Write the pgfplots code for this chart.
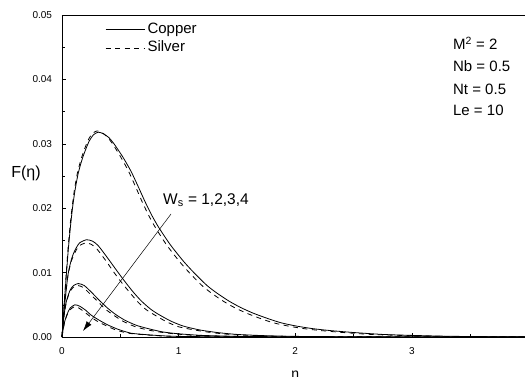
\documentclass[border=0pt]{standalone}
\usepackage{pgfplots}
\pgfplotsset{compat=1.18}
\usepackage{fontspec}
\setmainfont{Liberation Sans}
\usetikzlibrary{arrows.meta}
\newcommand{\fs}[1]{\fontsize{#1}{#1}\selectfont}
\pgfplotsset{
  curve/.style={line width=0.8pt, black, solid, no marks, smooth, tension=0.4,
    legend image code/.code={\draw[##1] (0pt,0pt) -- (39pt,0pt);}},
  dcurve/.style={curve, dash pattern=on 5pt off 4.5pt},
}
\begin{document}
\begin{tikzpicture}
\begin{axis}[
  at={(0,0)}, anchor=origin,
  scale only axis, width=466.4pt, height=322pt,
  xmin=0, xmax=4, ymin=0, ymax=0.05,
  clip=false,
  axis line style={line width=0.6pt},
  xtick={0,1,2,3}, minor xtick={0.5,1.5,2.5,3.5},
  ytick={0,0.01,0.02,0.03,0.04,0.05}, minor ytick={0.005,0.015,0.025,0.035,0.045},
  xtick pos=bottom, ytick pos=left, tick align=inside,
  major tick length=4pt, minor tick length=3pt,
  tick style={line width=0.5pt, black},
  scaled y ticks=false,
  /pgf/number format/assume math mode=true,
  ticklabel style={font=\fs{10}},
  xticklabel style={yshift=-7pt},
  yticklabel style={xshift=-6.5pt, /pgf/number format/.cd, fixed, zerofill, precision=2},
  legend style={draw=none, fill=none, inner sep=0pt, at={(axis cs:0.369,0.04887)}, anchor=north west, font=\fs{15}, row sep=4pt, column sep=2.5pt,
    nodes={inner sep=0pt, text height=11pt, text depth=3.4pt}},
  legend cell align=left,
]
% W=1 copper
\addplot[curve] coordinates {(0,0) (0.02,0.0054) (0.037,0.0096) (0.055,0.0138) (0.074,0.0174) (0.09,0.0200) (0.11,0.0226) (0.14,0.0255) (0.18,0.0280) (0.23,0.0303) (0.27,0.0314) (0.31,0.0318) (0.35,0.0316) (0.40,0.0310) (0.45,0.0299) (0.52,0.0280) (0.59,0.0258) (0.65,0.0235) (0.71,0.0211) (0.77,0.0189) (0.83,0.0170) (0.93,0.0143) (1.04,0.0118) (1.11,0.0104) (1.18,0.0091) (1.25,0.0079) (1.33,0.0068) (1.43,0.0056) (1.53,0.0046) (1.64,0.0037) (1.76,0.0029) (1.88,0.0022) (2.01,0.0017) (2.15,0.0013) (2.30,0.0010) (2.5,0.0007) (2.75,0.0004) (3.0,0.00025) (3.3,0.00012) (3.6,0.00006) (4.0,0.00002)};
\addlegendentry{Copper}
% W=1 silver
\addplot[dcurve] coordinates {(0,0) (0.02,0.0056) (0.036,0.0098) (0.053,0.0140) (0.071,0.0176) (0.087,0.0202) (0.106,0.0228) (0.135,0.0257) (0.174,0.0282) (0.222,0.0305) (0.261,0.0316) (0.30,0.0320) (0.338,0.0318) (0.386,0.0311) (0.434,0.0300) (0.502,0.0280) (0.569,0.0258) (0.627,0.0235) (0.685,0.0211) (0.743,0.0189) (0.801,0.0170) (0.897,0.0143) (1.004,0.0118) (1.071,0.0104) (1.139,0.0091) (1.206,0.0079) (1.283,0.0068) (1.38,0.0056) (1.476,0.0046) (1.583,0.0037) (1.698,0.0029) (1.814,0.0022) (1.94,0.0017) (2.075,0.0013) (2.22,0.0010) (2.41,0.0007) (2.65,0.0004) (2.9,0.00025) (3.18,0.00012) (3.47,0.00006) (3.86,0.00002) (4.0,0.00001)};
\addlegendentry{Silver}
% W=2 copper
\addplot[curve] coordinates {(0,0) (0.02,0.0045) (0.051,0.0096) (0.08,0.0120) (0.109,0.0134) (0.15,0.0146) (0.21,0.0151) (0.26,0.0149) (0.31,0.0142) (0.394,0.0122) (0.47,0.0103) (0.54,0.0086) (0.61,0.0070) (0.68,0.0056) (0.755,0.0044) (0.82,0.0036) (0.93,0.0025) (1.04,0.0017) (1.18,0.0011) (1.33,0.0007) (1.5,0.0004) (1.75,0.0002) (2.0,0.0001) (2.5,0.00003) (3.0,0.00001) (4.0,0)};
% W=2 silver
\addplot[dcurve] coordinates {(0,0) (0.019,0.0043) (0.049,0.0093) (0.077,0.0116) (0.105,0.0129) (0.144,0.0141) (0.202,0.0146) (0.25,0.0144) (0.298,0.0137) (0.378,0.0118) (0.451,0.0099) (0.518,0.0083) (0.586,0.0068) (0.653,0.0054) (0.725,0.0042) (0.787,0.0035) (0.893,0.0024) (0.998,0.0016) (1.133,0.0011) (1.277,0.0007) (1.44,0.0004) (1.68,0.0002) (1.92,0.0001) (2.4,0.00003) (2.88,0.00001) (4.0,0)};
% W=3 copper
\addplot[curve] coordinates {(0,0) (0.015,0.0030) (0.037,0.0055) (0.07,0.0073) (0.10,0.0080) (0.14,0.0083) (0.19,0.0080) (0.25,0.0070) (0.32,0.0057) (0.39,0.0045) (0.46,0.0035) (0.54,0.0026) (0.64,0.0018) (0.74,0.0013) (0.86,0.0008) (1.0,0.0005) (1.2,0.00025) (1.5,0.0001) (2.0,0.00003) (3.0,0) (4.0,0)};
% W=3 silver
\addplot[dcurve] coordinates {(0,0) (0.014,0.0029) (0.036,0.0053) (0.067,0.0070) (0.096,0.0077) (0.134,0.0080) (0.182,0.0077) (0.24,0.0067) (0.307,0.0055) (0.374,0.0043) (0.442,0.0034) (0.518,0.0025) (0.614,0.0017) (0.71,0.0012) (0.826,0.0008) (0.96,0.0005) (1.15,0.00024) (1.44,0.0001) (1.92,0.00003) (2.88,0) (4.0,0)};
% W=4 copper
\addplot[curve] coordinates {(0,0) (0.01,0.0012) (0.023,0.0024) (0.045,0.0036) (0.07,0.0045) (0.11,0.0050) (0.15,0.0048) (0.2,0.0042) (0.25,0.0034) (0.32,0.0026) (0.39,0.0019) (0.48,0.0012) (0.59,0.0006) (0.7,0.0004) (0.85,0.0002) (1.0,0.0001) (1.5,0.00002) (4.0,0)};
% W=4 silver
\addplot[dcurve] coordinates {(0,0) (0.01,0.0011) (0.022,0.0023) (0.043,0.0034) (0.067,0.0042) (0.106,0.0047) (0.144,0.0045) (0.192,0.0039) (0.24,0.0032) (0.307,0.0024) (0.374,0.0018) (0.461,0.0011) (0.566,0.0006) (0.672,0.0004) (0.816,0.0002) (0.96,0.0001) (1.44,0.00002) (4.0,0)};
% annotations
\draw[line width=0.5pt, -{Latex[length=10pt,width=6pt]}] (axis cs:0.935,0.0191) -- (axis cs:0.18,0.00093);
\node[anchor=base west, font=\fs{15.5}, inner sep=0pt] at (axis cs:0.866,0.02065) {W\textsubscript{s} = 1,2,3,4};
\node[anchor=center, font=\fs{16}, inner sep=0pt] at (axis cs:-0.309,0.02547) {F(η)};
\node[anchor=base west, font=\fs{15}, inner sep=0pt] at (axis cs:3.353,0.04457) {M\textsuperscript{2} = 2};
\node[anchor=base west, font=\fs{15}, inner sep=0pt] at (axis cs:3.353,0.04115) {Nb = 0.5};
\node[anchor=base west, font=\fs{15}, inner sep=0pt] at (axis cs:3.353,0.03773) {Nt = 0.5};
\node[anchor=base west, font=\fs{15}, inner sep=0pt] at (axis cs:3.353,0.03432) {Le = 10};
\node[anchor=north, font=\fs{14}, inner sep=0pt] at ([yshift=-34pt]axis cs:2.0,0) {η};
\end{axis}
\pgfresetboundingbox
\path[use as bounding box] (-62pt,-39pt) rectangle (463pt,337pt);
\end{tikzpicture}
\end{document}
